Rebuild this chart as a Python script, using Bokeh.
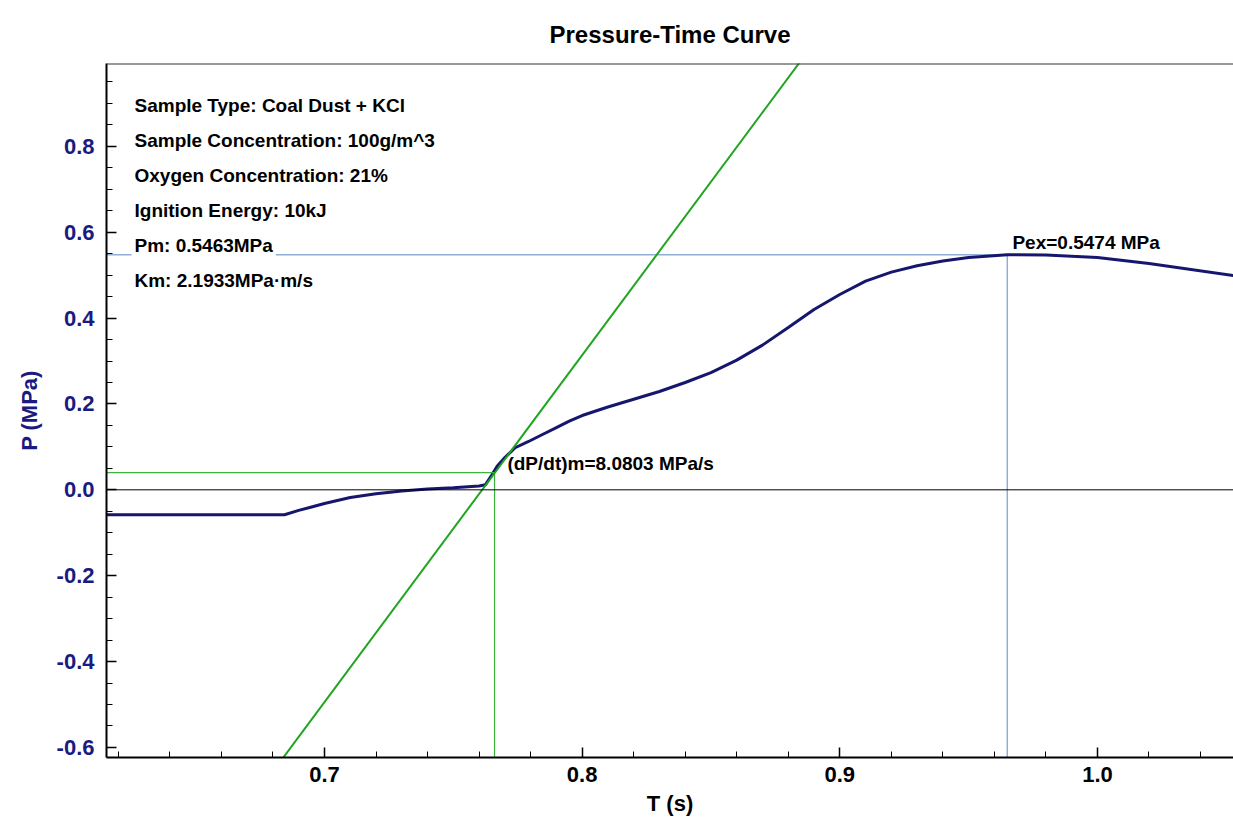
from bokeh.plotting import figure
from bokeh.models import Range1d, Label, Span, SingleIntervalTicker, PrintfTickFormatter
from bokeh.embed import file_html
from bokeh.resources import INLINE

# ---- data ----
t_vals = [0.6154, 0.640, 0.660, 0.6845, 0.690, 0.695, 0.700, 0.710, 0.720, 0.730,
          0.740, 0.750, 0.760, 0.7625, 0.765, 0.767, 0.770, 0.774, 0.779, 0.785,
          0.790, 0.795, 0.800, 0.810, 0.820, 0.830, 0.840, 0.850, 0.860, 0.870,
          0.880, 0.890, 0.900, 0.910, 0.920, 0.930, 0.940, 0.950, 0.965, 0.980,
          1.000, 1.020, 1.0528]
p_vals = [-0.058, -0.058, -0.058, -0.058, -0.048, -0.040, -0.032, -0.018, -0.009, -0.003,
          0.002, 0.005, 0.009, 0.012, 0.035, 0.055, 0.075, 0.098, 0.112, 0.130,
          0.145, 0.160, 0.173, 0.193, 0.211, 0.229, 0.250, 0.273, 0.302, 0.337,
          0.378, 0.420, 0.455, 0.486, 0.507, 0.522, 0.533, 0.541, 0.5474, 0.547,
          0.541, 0.527, 0.499]

slope_max = 8.0803        # (dP/dt)m, MPa/s
t_cross = 0.7612          # where tangent crosses P = 0
t_mark = 0.766            # vertical green marker
p_mark = 0.04             # horizontal green marker
t_pex = 0.965
p_ex = 0.5474

info_lines = ["Sample Type: Coal Dust + KCl",
              "Sample Concentration: 100g/m^3",
              "Oxygen Concentration: 21%",
              "Ignition Energy: 10kJ",
              "Pm: 0.5463MPa",
              "Km: 2.1933MPa\u00b7m/s"]

X0, X1 = 0.6154, 1.0528
Y0, Y1 = -0.6235, 0.993

FONT = "Liberation Sans"
NAVY = "#1a1a80"

p = figure(width=1233, height=829, x_range=Range1d(X0, X1), y_range=Range1d(Y0, Y1),
           output_backend="svg", toolbar_location=None,
           min_border_left=106, min_border_right=0, min_border_top=63, min_border_bottom=72)

p.title.text = "Pressure-Time Curve"
p.title.align = "center"
p.title.vertical_align = "middle"
p.title.text_font = FONT
p.title.text_font_size = "24px"
p.title.text_font_style = "bold"
p.title.text_color = "black"
p.title.standoff = 30

p.xgrid.visible = False
p.ygrid.visible = False
p.outline_line_color = None
p.background_fill_color = "white"
p.border_fill_color = "white"

# axes
p.xaxis.ticker = SingleIntervalTicker(interval=0.1, num_minor_ticks=5)
p.yaxis.ticker = SingleIntervalTicker(interval=0.2, num_minor_ticks=4)
for ax in (p.xaxis[0], p.yaxis[0]):
    ax.formatter = PrintfTickFormatter(format="%.1f")
    ax.axis_line_color = "black"
    ax.axis_line_width = 2
    ax.major_tick_in = 10
    ax.major_tick_out = 0
    ax.minor_tick_in = 6
    ax.minor_tick_out = 0
    ax.major_tick_line_color = "black"
    ax.minor_tick_line_color = "black"
    ax.major_tick_line_width = 1.5
    ax.minor_tick_line_width = 1
    ax.major_label_text_font = FONT
    ax.major_label_text_font_style = "bold"
    ax.major_label_text_font_size = "22px"
    ax.axis_label_text_font = FONT
    ax.axis_label_text_font_style = "bold"
    ax.axis_label_text_font_size = "22px"

p.xaxis.axis_label = "T (s)"
p.xaxis.major_label_text_color = "black"
p.xaxis.axis_label_text_color = "black"
p.xaxis.major_label_standoff = 9
p.xaxis.axis_label_standoff = 6

p.yaxis.axis_label = "P (MPa)"
p.yaxis.major_label_text_color = NAVY
p.yaxis.axis_label_text_color = NAVY
p.yaxis.major_label_standoff = 12
p.yaxis.axis_label_standoff = 12

# top frame line
p.add_layout(Span(location=Y1, dimension="width", line_color="#333333", line_width=2))
# zero line
p.add_layout(Span(location=0, dimension="width", line_color="black", line_width=1))

# Pex marker lines (light blue)
p.segment(x0=[X0], y0=[p_ex], x1=[t_pex], y1=[p_ex], line_color="#8fb0d6", line_width=1.5)
p.segment(x0=[t_pex], y0=[p_ex], x1=[t_pex], y1=[Y0], line_color="#8fb0d6", line_width=1.5)

# pressure curve
p.line(t_vals, p_vals, line_color="#16166e", line_width=3)

# green markers
p.segment(x0=[X0], y0=[p_mark], x1=[t_mark], y1=[p_mark], line_color="#3cb43c", line_width=1.2)
p.segment(x0=[t_mark], y0=[p_mark], x1=[t_mark], y1=[Y0], line_color="#3cb43c", line_width=1.2)

# tangent line with max slope
tan_x = [X0, X1]
tan_y = [slope_max * (x - t_cross) for x in tan_x]
p.line(tan_x, tan_y, line_color="#1fa51f", line_width=2)

# info text block
y_first = 0.895
y_step = 0.0816
for i, s in enumerate(info_lines):
    p.add_layout(Label(x=0.6251, y=y_first - i * y_step, text=s,
                       text_font=FONT, text_font_style="bold", text_font_size="19px",
                       text_color="black", text_baseline="middle", text_align="left",
                       background_fill_color="white", padding=3))

p.add_layout(Label(x=0.771, y=0.0606, text="(dP/dt)m=8.0803 MPa/s",
                   text_font=FONT, text_font_style="bold", text_font_size="19px",
                   text_color="black", text_baseline="middle", text_align="left"))
p.add_layout(Label(x=0.967, y=0.576, text="Pex=0.5474 MPa",
                   text_font=FONT, text_font_style="bold", text_font_size="19px",
                   text_color="black", text_baseline="middle", text_align="left"))

open("out.html", "w").write(file_html(p, INLINE))
